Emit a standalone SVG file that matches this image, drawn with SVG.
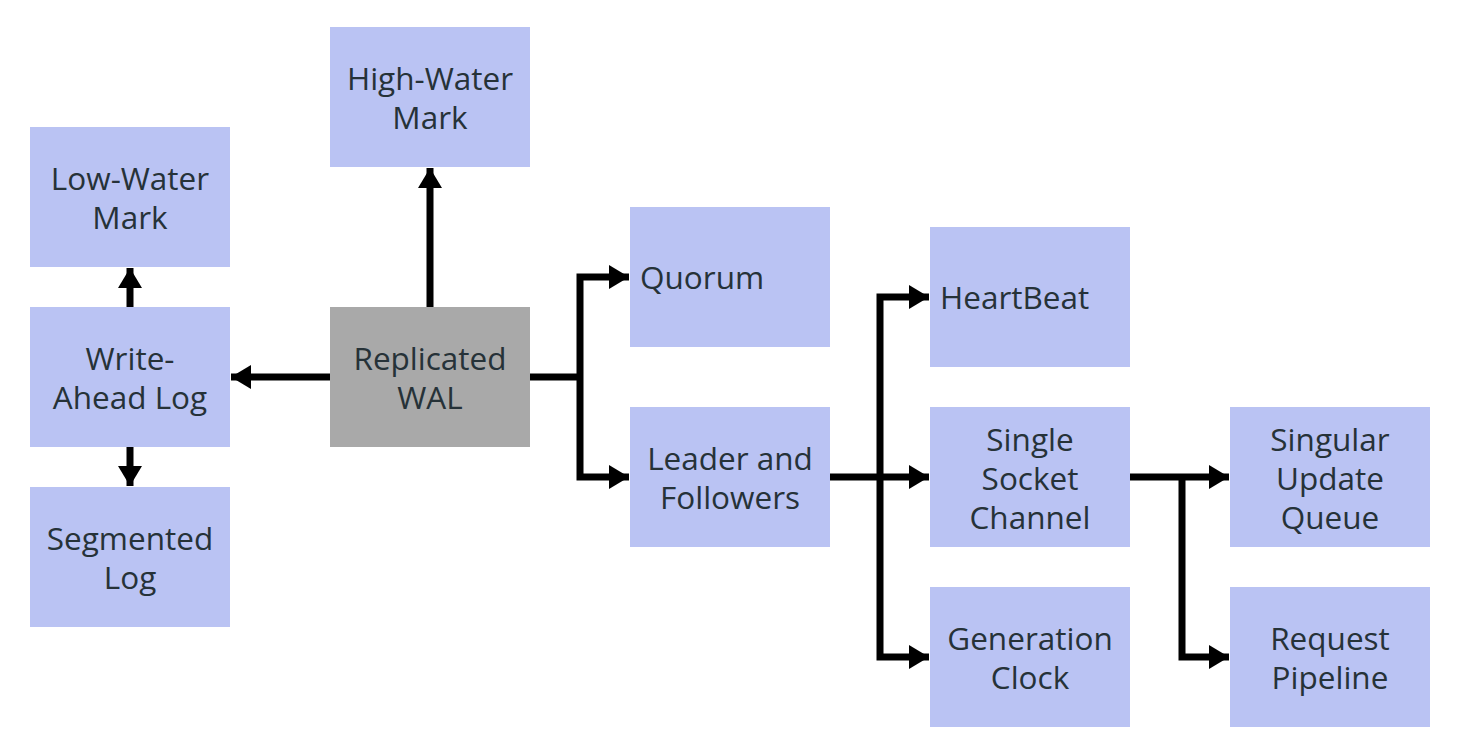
<svg xmlns="http://www.w3.org/2000/svg" width="1460" height="754" viewBox="0 0 1460 754">
<defs>
<marker id="ah" markerWidth="21" markerHeight="24" refX="20" refY="12" orient="auto" markerUnits="userSpaceOnUse">
<path d="M0,0 L20,12 L0,24 Z" fill="#000"/>
</marker>
<style>
.box{fill:#bac3f3}
.grey{fill:#a9a9a9}
text{font-family:"Open Sans","Noto Sans","DejaVu Sans",sans-serif;font-size:31.5px;fill:#263238}
.c{text-anchor:middle}
.conn path{fill:none;stroke:#000;stroke-width:7}
</style>
</defs>
<rect width="1460" height="754" fill="#fff"/>
<g class="conn" id="connectors">
<path d="M330,377 H231" marker-end="url(#ah)"/>
<path d="M130,307 V268" marker-end="url(#ah)"/>
<path d="M130,447 V486" marker-end="url(#ah)"/>
<path d="M430,307 V168" marker-end="url(#ah)"/>
<path d="M530,377 H580"/>
<path d="M580,377 V277 H629" marker-end="url(#ah)"/>
<path d="M580,377 V477 H629" marker-end="url(#ah)"/>
<path d="M830,477 H929" marker-end="url(#ah)"/>
<path d="M880,477 V297 H929" marker-end="url(#ah)"/>
<path d="M880,477 V657 H929" marker-end="url(#ah)"/>
<path d="M1130,477 H1229" marker-end="url(#ah)"/>
<path d="M1182,477 V657 H1229" marker-end="url(#ah)"/>
</g>
<g id="high-water-mark"><rect class="box" x="330" y="27" width="200" height="140"/><text class="c" x="430" y="90">High-Water</text><text class="c" x="430" y="129">Mark</text></g>
<g id="low-water-mark"><rect class="box" x="30" y="127" width="200" height="140"/><text class="c" x="130" y="190">Low-Water</text><text class="c" x="130" y="229">Mark</text></g>
<g id="write-ahead-log"><rect class="box" x="30" y="307" width="200" height="140"/><text class="c" x="130" y="370">Write-</text><text class="c" x="130" y="409">Ahead Log</text></g>
<g id="segmented-log"><rect class="box" x="30" y="487" width="200" height="140"/><text class="c" x="130" y="550">Segmented</text><text class="c" x="130" y="589">Log</text></g>
<g id="replicated-wal"><rect class="grey" x="330" y="307" width="200" height="140"/><text class="c" x="430" y="370">Replicated</text><text class="c" x="430" y="409">WAL</text></g>
<g id="quorum"><rect class="box" x="630" y="207" width="200" height="140"/><text x="640" y="289">Quorum</text></g>
<g id="leader-and-followers"><rect class="box" x="630" y="407" width="200" height="140"/><text class="c" x="730" y="470">Leader and</text><text class="c" x="730" y="509">Followers</text></g>
<g id="heartbeat"><rect class="box" x="930" y="227" width="200" height="140"/><text x="940" y="309">HeartBeat</text></g>
<g id="single-socket-channel"><rect class="box" x="930" y="407" width="200" height="140"/><text class="c" x="1030" y="451">Single</text><text class="c" x="1030" y="490">Socket</text><text class="c" x="1030" y="529">Channel</text></g>
<g id="generation-clock"><rect class="box" x="930" y="587" width="200" height="140"/><text class="c" x="1030" y="650">Generation</text><text class="c" x="1030" y="689">Clock</text></g>
<g id="singular-update-queue"><rect class="box" x="1230" y="407" width="200" height="140"/><text class="c" x="1330" y="451">Singular</text><text class="c" x="1330" y="490">Update</text><text class="c" x="1330" y="529">Queue</text></g>
<g id="request-pipeline"><rect class="box" x="1230" y="587" width="200" height="140"/><text class="c" x="1330" y="650">Request</text><text class="c" x="1330" y="689">Pipeline</text></g>
</svg>
